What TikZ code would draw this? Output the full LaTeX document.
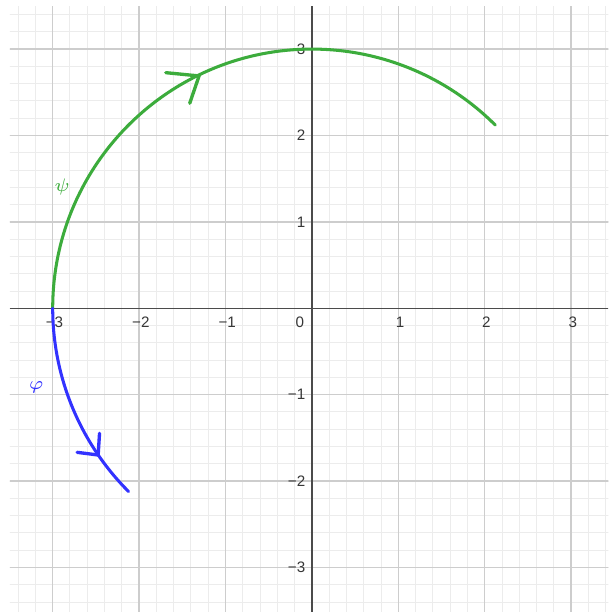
\documentclass[tikz,border=0pt]{standalone}
\usepackage{fontspec}
\setsansfont{Liberation Sans}
\definecolor{ggreen}{RGB}{60,172,60}
\definecolor{gblue}{RGB}{50,50,255}
\definecolor{minorgrid}{RGB}{236,236,236}
\definecolor{majorgrid}{RGB}{205,205,205}
\definecolor{axiscol}{RGB}{75,75,75}
\definecolor{labcol}{RGB}{55,55,55}
\tikzset{
  minorline/.style={draw=minorgrid, line width=0.33pt},
  majorline/.style={draw=majorgrid, line width=0.45pt},
  axisline/.style={draw=axiscol, line width=0.5pt},
  ticklab/.style={text=labcol, font=\sffamily\fontsize{5}{5.5}\selectfont, inner sep=0pt},
  curvegreen/.style={draw=ggreen, line width=1pt, line cap=round},
  curveblue/.style={draw=gblue, line width=1pt, line cap=round},
  armgreen/.style={draw=ggreen, line width=1.1pt, line cap=round},
  armblue/.style={draw=gblue, line width=1.1pt, line cap=round},
  greeklab/.style={font=\fontsize{6.3}{7}\selectfont, inner sep=0pt}
}
\begin{document}
\begin{tikzpicture}
\useasboundingbox[fill=white] (-3.61,-3.515) rectangle (3.43,3.568);
% minor grid
\begin{scope}
\clip (-3.495,-3.515) rectangle (3.43,3.498);
\foreach \i in {-18,...,18}{
  \draw[minorline] (\i/5,-3.6) -- (\i/5,3.6);
  \draw[minorline] (-3.6,\i/5) -- (3.6,\i/5);
}
\foreach \i in {-3,...,3}{
  \draw[majorline] (\i,-3.6) -- (\i,3.6);
  \draw[majorline] (-3.6,\i) -- (3.6,\i);
}
\end{scope}
% axes
\draw[axisline] (-3.495,0) -- (3.43,0);
\draw[axisline] (0,-3.515) -- (0,3.498);
% tick labels
\foreach \x/\t in {-3/{−3},-2/{−2},-1/{−1},1/1,2/2,3/3}{
  \node[ticklab] (xl\x) at (\x+0.02,-0.16) {\t};
}
\node[ticklab] (xl0) at (-0.14,-0.16) {0};
\foreach \y/\t in {-3/{−3},-2/{−2},-1/{−1},1/1,2/2,3/3}{
  \node[ticklab, anchor=east] (yl\y) at (-0.07,\y) {\t};
}
% curves
\coordinate (A) at (-3,0);
\coordinate (G) at (45:3);
\coordinate (B) at (225:3);
\draw[curvegreen] (A) arc[start angle=180, end angle=45, radius=3];
\draw[curveblue] (A) arc[start angle=180, end angle=225, radius=3];
% hand-drawn arrowheads
\coordinate (gt) at (-1.306,2.689);
\coordinate (ga1) at (-1.691,2.727);
\coordinate (ga2) at (-1.414,2.373);
\draw[armgreen] (ga1) -- (gt) -- (ga2);
\coordinate (bt) at (-2.474,-1.698);
\coordinate (ba1) at (-2.458,-1.447);
\coordinate (ba2) at (-2.717,-1.667);
\draw[armblue] (ba1) -- (bt) -- (ba2);
% labels
\node[greeklab, text=ggreen] (psi) at (-2.89,1.40) {$\psi$};
\node[greeklab, text=gblue] (phi) at (-3.19,-0.92) {$\varphi$};
\end{tikzpicture}
\end{document}
